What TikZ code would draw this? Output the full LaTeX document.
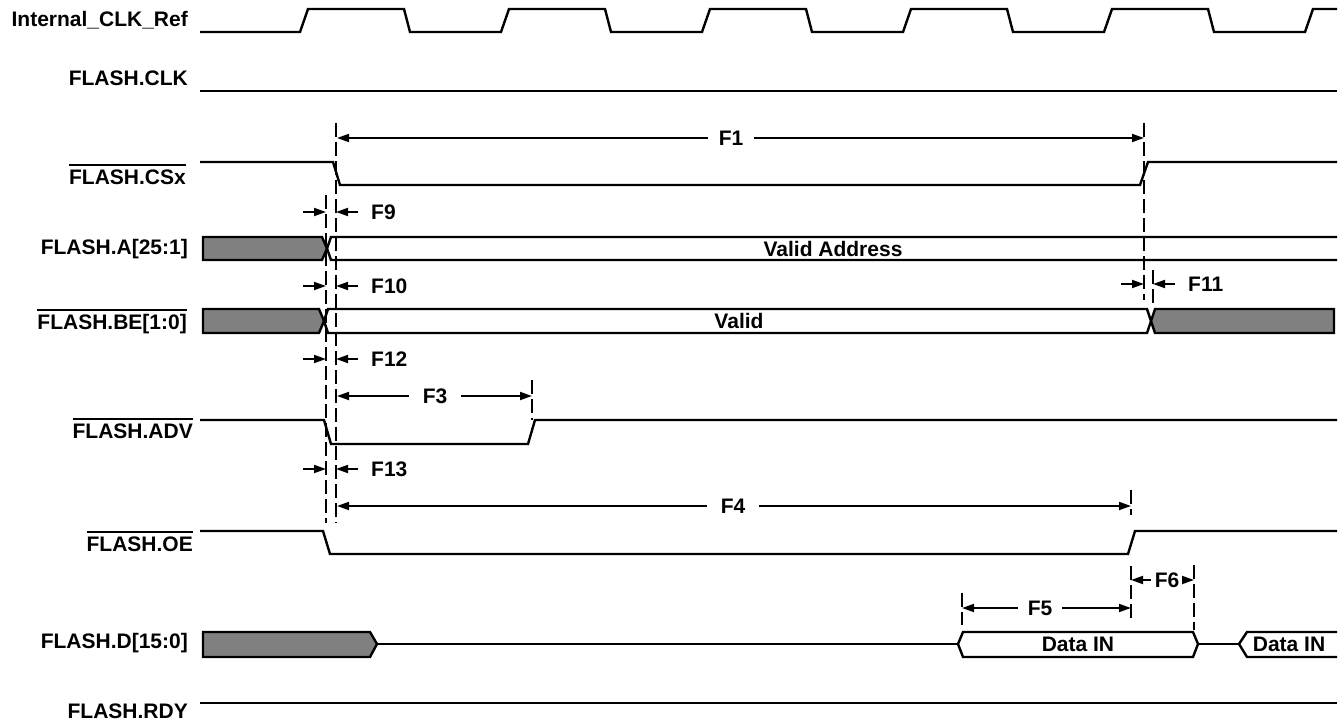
\documentclass[tikz,border=0pt]{standalone}
\usepackage{fontspec}
\setmainfont{Liberation Sans}
\usetikzlibrary{arrows.meta,calc}
\tikzstyle{sig}=[line width=2.4pt, line join=miter]
\tikzstyle{busx}=[sig, fill=black!50]
\tikzstyle{dimarr}=[line width=1.8pt, -{Triangle[length=12pt,width=8pt]}]
\tikzstyle{guide}=[line width=1.6pt, dash pattern=on 14pt off 5pt]
\tikzstyle{sname}=[anchor=east, inner sep=0pt, text height=15pt, text depth=0pt, font=\fontsize{21}{24}\selectfont\bfseries]
\tikzstyle{flab}=[sname, anchor=center, fill=white, inner sep=11pt]
\tikzstyle{flabw}=[sname, anchor=west]
\tikzstyle{btext}=[sname, anchor=center]
\newcommand{\lowact}[1]{\setbox0=\hbox{#1}\rlap{\rule[18.5pt]{\wd0}{1.6pt}}\box0}
% span with the label in the gap
\newcommand{\measure}[5][11pt]
{
  \node[flab, inner sep=#1] (#2) at (#4,#3) {#2};
  \coordinate (#2l) at (#5,#3);
  \draw[dimarr] (#2) -- (#2l);
}
% two arrows pointing at a short gap
\newcommand{\pinch}[4]
{
  \coordinate (#1a) at (#3,#2);
  \coordinate (#1b) at (#4,#2);
  \draw[dimarr] ($(#1a)+(-23,0)$) -- (#1a);
  \draw[dimarr] ($(#1b)+(22,0)$) -- (#1b);
  \node[flabw] (#1) at ($(#1b)+(35,0)$) {#1};
}

\begin{document}
\begin{tikzpicture}[x=1pt, y=-1pt]
	\useasboundingbox (0,0) rectangle (1341,725);
	\fill[white] (0,0) rectangle (1341,725);

	\node[sname] (clkref) at (188,19) {Internal\_CLK\_Ref};
	\node[sname] (flclk) at (188,78) {FLASH.CLK};
	\node[sname] (flcs) at (186,177) {\lowact{FLASH.CSx}};
	\node[sname] (fla) at (188,247) {FLASH.A[25:1]};
	\node[sname] (flbe) at (187,322) {\lowact{FLASH.BE[1:0]}};
	\node[sname] (fladv) at (193,431) {\lowact{FLASH.ADV}};
	\node[sname] (floe) at (193,544) {\lowact{FLASH.OE}};
	\node[sname] (fld) at (188,641) {FLASH.D[15:0]};
	\node[sname] (flrdy) at (188,711) {FLASH.RDY};

	% waveforms
	\draw[sig] (200,32) \foreach \k in {0,...,4}{ -- ({300+201*\k},32) -- ({308+201*\k},9) -- ({404+201*\k},9) -- ({410+201*\k},32)} -- (1305,32) -- (1313,9) -- (1337,9);
	\draw[sig] (200,91) -- (1337,91);
	\draw[sig] (200,162) -- (333,162) -- (340,185) -- (1140,185) -- (1148,162) -- (1337,162);

	\draw[busx] (203,237) -- (322,237) -- (327,248.5) -- (322,260) -- (203,260) -- cycle;
	\draw[sig] (1337,237) -- (331,237) -- (327,248.5) -- (331,260) -- (1337,260);
	\node[btext] (vaddr) at (833,249) {Valid Address};

	\draw[busx] (203,309) -- (319,309) -- (324,321) -- (319,333) -- (203,333) -- cycle;
	\draw[sig] (328,309) -- (1147,309) -- (1151,321) -- (1147,333) -- (328,333) -- (324,321) -- cycle;
	\draw[busx] (1155,309) -- (1334,309) -- (1334,333) -- (1155,333) -- (1151,321) -- cycle;
	\node[btext] (vbe) at (739,321) {Valid};

	\draw[sig] (200,420) -- (324,420) -- (331,444) -- (528,444) -- (535,420) -- (1337,420);
	\draw[sig] (200,531) -- (323,531) -- (330,554) -- (1128,554) -- (1135,531) -- (1337,531);

	\draw[busx] (203,632) -- (370,632) -- (377,644) -- (370,657) -- (203,657) -- cycle;
	\draw[sig] (377,644) -- (958,644);
	\draw[sig] (958,644) -- (963,632) -- (1193,632) -- (1198,644) -- (1193,657) -- (963,657) -- cycle;
	\draw[sig] (1198,644) -- (1239,644);
	\draw[sig] (1337,632) -- (1247,632) -- (1239,644) -- (1247,657) -- (1337,657);
	\node[btext] (din1) at (1078,644) {Data IN};
	\node[btext] (din2) at (1289,644) {Data IN};

	\draw[sig] (200,703) -- (1337,703);

	% timing guides
	\draw[guide] (336,123) -- (336,523);
	\draw[guide] (326,195) -- (326,523);
	\draw[guide] (1144,123) -- (1144,300);
	\draw[guide] (1153,270) -- (1153,303);
	\draw[guide] (532,380) -- (532,420);
	\draw[guide] (1131,490) -- (1131,515);
	\draw[guide] (1131,566) -- (1131,622);
	\draw[guide] (1194,565) -- (1194,630);
	\draw[guide] (962,593) -- (962,625);

	\measure{F1}{138}{731}{337}
	\draw[dimarr] (F1) -- (1144,138);
	\measure[14pt]{F3}{396}{435}{337}
	\draw[dimarr] (F3) -- (532,396);
	\measure[14pt]{F4}{506}{733}{337}
	\draw[dimarr] (F4) -- (1131,506);
	\measure[10pt]{F5}{608}{1040}{962}
	\draw[dimarr] (F5) -- (1131,608);
	\measure[4pt]{F6}{580}{1167}{1131}
	\draw[dimarr] (F6) -- (1194,580);

	\pinch{F9}{212}{326}{336}
	\pinch{F10}{286}{326}{336}
	\pinch{F12}{359}{326}{336}
	\pinch{F13}{469}{326}{336}
	\pinch{F11}{284}{1144}{1153}

\end{tikzpicture}
\end{document}
